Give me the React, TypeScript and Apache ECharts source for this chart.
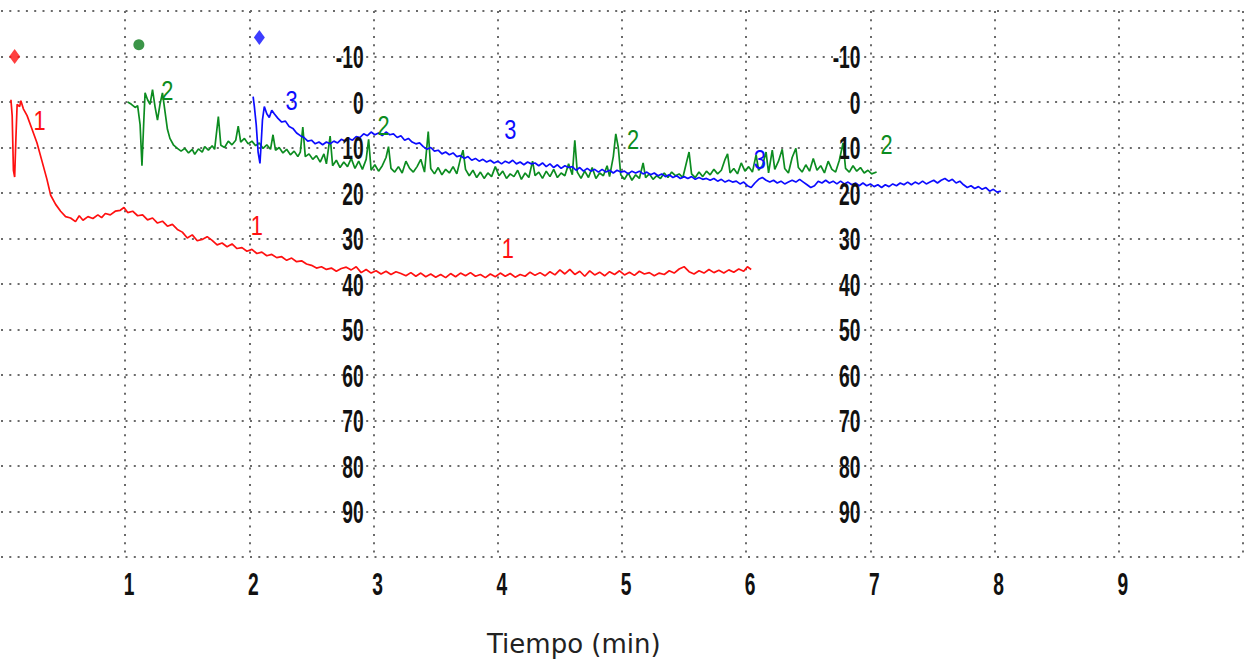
import React, { useEffect, useRef } from "react";
import * as echarts from "echarts";

const xTicks = [1, 2, 3, 4, 5, 6, 7, 8, 9];
const yTicks = [-10, 0, 10, 20, 30, 40, 50, 60, 70, 80, 90];
const yLabelColumns = [3, 7];

const RED = "#ff1010";
const GREEN = "#0c8c20";
const BLUE = "#0c0cff";

const series1: number[][] = [
  [0.08, -0.5], [0.09, 3], [0.1, 15], [0.11, 16.5], [0.12, 8], [0.13, 0.5], [0.15, 1], [0.16, -0.3], [0.18, 1.5],
  [0.21, 3], [0.25, 6], [0.29, 9], [0.33, 13], [0.37, 17], [0.4, 20.5], [0.44, 22.5], [0.48, 24], [0.52, 25.2],
  [0.56, 25.5], [0.6, 26.3], [0.63, 25], [0.66, 26], [0.7, 25.2], [0.74, 25.6], [0.78, 24.8], [0.81, 25.4],
  [0.84, 24.5], [0.88, 24.8], [0.92, 24], [0.96, 23.8], [0.99, 23.2], [1.02, 24.3], [1.06, 24], [1.1, 25],
  [1.14, 24.8], [1.18, 25.9], [1.22, 25.5], [1.26, 26.6], [1.3, 26.2], [1.34, 27.3], [1.38, 26.9], [1.42, 28],
  [1.46, 28.6], [1.5, 29.9], [1.54, 29.2], [1.58, 30.5], [1.62, 30.2], [1.66, 29.6], [1.7, 30.4], [1.74, 31.4],
  [1.78, 31], [1.82, 31.8], [1.86, 31.2], [1.9, 32.2], [1.94, 32], [1.98, 32.8], [2.02, 32.4], [2.06, 33.3],
  [2.1, 33], [2.14, 33.8], [2.18, 33.5], [2.22, 34.2], [2.26, 34], [2.3, 34.8], [2.34, 34.3], [2.38, 35.1],
  [2.42, 34.9], [2.46, 35.6], [2.5, 35.9], [2.54, 36.5], [2.58, 36.2], [2.62, 36.8], [2.66, 36.5], [2.7, 37.2],
  [2.74, 36.6], [2.78, 36.3], [2.82, 36.9], [2.86, 36.2], [2.9, 37.5], [2.94, 36.8], [2.98, 37.6], [3.02, 37.1],
  [3.06, 37.8], [3.1, 37.2], [3.14, 37.9], [3.18, 37.3], [3.22, 37.7], [3.26, 38.2], [3.3, 37.5], [3.34, 38.3],
  [3.38, 37.6], [3.42, 38.4], [3.46, 37.8], [3.5, 38.5], [3.54, 37.9], [3.58, 38.6], [3.62, 37.7], [3.66, 38.4],
  [3.7, 37.6], [3.74, 38.2], [3.78, 37.5], [3.82, 38.3], [3.86, 37.9], [3.9, 38.6], [3.94, 37.8], [3.98, 38.4],
  [4.02, 37.6], [4.06, 38.3], [4.1, 37.7], [4.14, 38.5], [4.18, 37.9], [4.22, 38.3], [4.26, 37.4], [4.3, 38.1],
  [4.34, 37.5], [4.38, 38.2], [4.42, 37.3], [4.46, 38], [4.5, 36.9], [4.54, 37.8], [4.58, 36.8], [4.62, 37.9],
  [4.66, 37.2], [4.7, 38.3], [4.74, 37.1], [4.78, 38], [4.82, 37.4], [4.86, 38.2], [4.9, 37.3], [4.94, 37.9],
  [4.98, 37.1], [5.02, 38], [5.06, 37.4], [5.1, 38.1], [5.14, 37.2], [5.18, 37.8], [5.22, 37.5], [5.26, 38.2],
  [5.3, 37.6], [5.34, 37.9], [5.38, 37.1], [5.42, 37.6], [5.46, 36.7], [5.5, 36.2], [5.54, 37.3], [5.58, 37.8],
  [5.62, 37.1], [5.66, 37.6], [5.7, 36.8], [5.74, 37.5], [5.78, 37], [5.82, 37.6], [5.86, 36.9], [5.9, 37.4],
  [5.94, 36.7], [5.98, 37.2], [6.01, 36.2], [6.04, 36.8],
];

const series2: number[][] = [
  [1.02, 0], [1.05, 0.5], [1.08, 1.2], [1.1, 0.8], [1.12, 5], [1.135, 14], [1.15, 4], [1.16, -2], [1.18, -0.5],
  [1.2, 0.5], [1.22, -2.7], [1.24, 1], [1.26, 4], [1.28, 0.5], [1.3, -2], [1.32, 2], [1.34, 6], [1.36, 8],
  [1.39, 9.5], [1.42, 10.2], [1.45, 10.8], [1.48, 10.2], [1.51, 11.2], [1.54, 10.4], [1.56, 11.5], [1.59, 10.3],
  [1.62, 11], [1.64, 9.8], [1.67, 10.6], [1.7, 9.6], [1.72, 10.4], [1.75, 3.2], [1.77, 9.5], [1.8, 10],
  [1.83, 8.6], [1.86, 9.4], [1.89, 8.4], [1.91, 5.3], [1.93, 8.8], [1.96, 8], [1.99, 9.2], [2.02, 8.6],
  [2.05, 9.6], [2.08, 9], [2.11, 10.2], [2.14, 9.4], [2.17, 10.4], [2.19, 7.2], [2.21, 10.6], [2.24, 10],
  [2.27, 11.2], [2.3, 10.4], [2.33, 11.6], [2.36, 10.8], [2.39, 12], [2.41, 11], [2.43, 5.5], [2.45, 12],
  [2.48, 11.4], [2.51, 12.6], [2.54, 11.8], [2.57, 13.2], [2.6, 11.4], [2.62, 13.6], [2.65, 7.5], [2.67, 14],
  [2.7, 12.8], [2.73, 14.4], [2.76, 13.2], [2.79, 14.2], [2.82, 12.4], [2.85, 14.6], [2.88, 13], [2.91, 14.8],
  [2.94, 12.6], [2.96, 8.2], [2.98, 15], [3.01, 13.8], [3.04, 15.2], [3.07, 14], [3.1, 12.2], [3.12, 9.8],
  [3.14, 14.6], [3.17, 15.4], [3.2, 14.2], [3.23, 15.6], [3.26, 13], [3.29, 14.6], [3.32, 15.4], [3.35, 14.2],
  [3.38, 12.6], [3.41, 15.4], [3.44, 6.5], [3.46, 14.6], [3.49, 15.8], [3.52, 14.4], [3.55, 16], [3.58, 14.8],
  [3.61, 15.6], [3.64, 14.2], [3.67, 15.8], [3.7, 12.4], [3.72, 10.6], [3.74, 14.8], [3.77, 16.2], [3.8, 15],
  [3.83, 16.6], [3.86, 15.4], [3.89, 16.8], [3.92, 15.6], [3.95, 16.4], [3.98, 14.2], [4.01, 16.2], [4.04, 15.2],
  [4.07, 16.8], [4.1, 15.8], [4.13, 16.4], [4.16, 15], [4.19, 17], [4.22, 15.6], [4.25, 16.6], [4.28, 13],
  [4.3, 16.2], [4.33, 15.4], [4.36, 16.8], [4.39, 15.2], [4.42, 16.4], [4.45, 14.8], [4.48, 16.6], [4.51, 15.6],
  [4.54, 16.2], [4.57, 13.6], [4.6, 16], [4.62, 8.4], [4.64, 15.4], [4.67, 16.8], [4.7, 15.2], [4.73, 16.6],
  [4.76, 14.4], [4.79, 16.8], [4.82, 15.6], [4.85, 16.2], [4.88, 14], [4.9, 16.4], [4.93, 12], [4.95, 7],
  [4.97, 10], [4.99, 16], [5.02, 17], [5.05, 15.6], [5.08, 17.2], [5.11, 16], [5.14, 16.8], [5.17, 13.4],
  [5.19, 16.6], [5.22, 15.8], [5.25, 17], [5.28, 16.2], [5.31, 16.8], [5.34, 15.6], [5.37, 16.6], [5.4, 15.4],
  [5.43, 16.2], [5.46, 15.8], [5.49, 16.6], [5.52, 13.2], [5.54, 11], [5.56, 15.8], [5.59, 16.6], [5.62, 15.4],
  [5.65, 16.4], [5.68, 15.2], [5.71, 16], [5.74, 14.8], [5.77, 15.8], [5.8, 15], [5.83, 12.6], [5.85, 11.4],
  [5.87, 15.6], [5.9, 14.6], [5.93, 15.8], [5.96, 13.4], [5.99, 15.2], [6.02, 14.2], [6.05, 15.4], [6.08, 11.6],
  [6.1, 15], [6.13, 14], [6.16, 11], [6.18, 15.6], [6.21, 10.6], [6.23, 14.8], [6.26, 13], [6.29, 10.4],
  [6.31, 14.6], [6.34, 15.6], [6.37, 12.2], [6.4, 10.2], [6.42, 14.4], [6.45, 15.4], [6.48, 13.8], [6.51, 15.2],
  [6.54, 12.4], [6.57, 15], [6.6, 14], [6.63, 15.6], [6.66, 13], [6.69, 14.8], [6.72, 15.4], [6.75, 12.8],
  [6.78, 9], [6.8, 14.6], [6.83, 15.4], [6.86, 14], [6.89, 15.2], [6.92, 14.4], [6.95, 15.6], [6.98, 15],
  [7.01, 15.8], [7.05, 15.4],
];

const series3: number[][] = [
  [2.03, -1.2], [2.04, 1], [2.055, 5], [2.07, 11], [2.085, 13.5], [2.095, 9], [2.105, 4], [2.12, 1], [2.14, 2.6],
  [2.16, 3.4], [2.18, 1.8], [2.2, 2.6], [2.23, 3.6], [2.26, 4.4], [2.29, 4.2], [2.32, 5.4], [2.35, 5.8],
  [2.38, 6.8], [2.41, 7.4], [2.44, 7.8], [2.47, 8.6], [2.5, 8.4], [2.53, 9.2], [2.56, 8.8], [2.59, 9.4],
  [2.62, 8.8], [2.65, 9.2], [2.68, 8.6], [2.71, 9], [2.74, 8.2], [2.77, 8.6], [2.8, 8], [2.83, 8.4], [2.86, 7.6],
  [2.89, 7.8], [2.92, 7], [2.95, 7.4], [2.98, 6.6], [3.01, 7.2], [3.04, 6.8], [3.07, 7.4], [3.1, 6.6],
  [3.13, 7.2], [3.16, 7], [3.19, 7.8], [3.22, 7.4], [3.25, 8.4], [3.28, 8], [3.31, 8.8], [3.34, 9.2], [3.37, 9],
  [3.4, 9.8], [3.43, 10.4], [3.46, 10], [3.49, 10.8], [3.52, 10.6], [3.55, 11.4], [3.58, 11], [3.61, 11.6],
  [3.64, 11.2], [3.67, 12], [3.7, 11.8], [3.73, 12.4], [3.76, 12], [3.79, 12.8], [3.82, 12.4], [3.85, 13],
  [3.88, 12.6], [3.91, 13.2], [3.94, 12.8], [3.97, 13.4], [4.0, 13], [4.03, 13.6], [4.06, 13], [4.09, 13.4],
  [4.12, 12.8], [4.15, 13.6], [4.18, 13.2], [4.21, 13.8], [4.24, 13.2], [4.27, 13.6], [4.3, 13.4], [4.33, 14],
  [4.36, 13.4], [4.39, 14.2], [4.42, 13.6], [4.45, 14.4], [4.48, 13.8], [4.51, 14.6], [4.54, 14], [4.57, 14.4],
  [4.6, 14.2], [4.63, 15], [4.66, 14.4], [4.69, 15.2], [4.72, 14.6], [4.75, 15.2], [4.78, 14.8], [4.81, 15.4],
  [4.84, 14.8], [4.87, 15.4], [4.9, 15], [4.93, 15.6], [4.96, 15], [4.99, 15.4], [5.02, 15.2], [5.05, 15.8],
  [5.08, 15.2], [5.11, 15.6], [5.14, 15.2], [5.17, 15.8], [5.2, 15.4], [5.23, 16], [5.26, 15.6], [5.29, 16.2],
  [5.32, 15.8], [5.35, 16.4], [5.38, 16], [5.41, 16.6], [5.44, 16.2], [5.47, 16.8], [5.5, 16.4], [5.53, 16.8],
  [5.56, 16.4], [5.59, 17], [5.62, 16.6], [5.65, 17], [5.68, 16.8], [5.71, 17.2], [5.74, 16.8], [5.77, 17.4],
  [5.8, 17], [5.83, 17.6], [5.86, 17.2], [5.89, 17.6], [5.92, 17.4], [5.95, 18], [5.98, 17.6], [6.01, 18.4],
  [6.04, 18.8], [6.07, 17.8], [6.1, 17], [6.13, 16.6], [6.16, 17.2], [6.19, 17.6], [6.22, 17.2], [6.25, 17.8],
  [6.28, 17.4], [6.31, 18], [6.34, 17.6], [6.37, 17.2], [6.4, 17.6], [6.43, 17], [6.46, 17.6], [6.49, 18.2],
  [6.52, 18.8], [6.55, 18.4], [6.58, 17.4], [6.61, 17.8], [6.64, 17.2], [6.67, 17.8], [6.7, 17.4], [6.73, 18],
  [6.76, 17.4], [6.79, 18], [6.82, 17.6], [6.85, 18.2], [6.88, 17.8], [6.91, 18.4], [6.94, 17.8], [6.97, 18.4],
  [7.0, 18], [7.03, 18.6], [7.06, 18.2], [7.09, 18.8], [7.12, 18.2], [7.15, 18.6], [7.18, 18], [7.21, 18.4],
  [7.24, 17.8], [7.27, 18.2], [7.3, 17.6], [7.33, 18.2], [7.36, 17.6], [7.39, 18], [7.42, 17.4], [7.45, 18],
  [7.48, 17.6], [7.51, 17.2], [7.54, 17.8], [7.57, 17.2], [7.6, 16.8], [7.63, 17.4], [7.66, 17], [7.69, 17.8],
  [7.72, 17.4], [7.75, 18.2], [7.78, 18.8], [7.81, 18.4], [7.84, 19], [7.87, 18.6], [7.9, 19.2], [7.93, 18.8],
  [7.96, 19.6], [7.99, 19.2], [8.02, 19.8], [8.05, 19.6],
];

// curve number annotations: [time, value]
const labels1: number[][] = [[0.31, 4], [2.06, 27], [4.08, 32]];
const labels2: number[][] = [[1.34, -2.7], [3.08, 5], [5.09, 8.2], [7.13, 9.3]];
const labels3: number[][] = [[2.34, -0.5], [4.1, 6], [6.11, 12.6]];

// injection markers: [time, value]
const marker1 = [0.11, -10];
const marker2 = [1.11, -12.6];
const marker3 = [2.08, -14.2];

const DIGIT_FONT = "'Liberation Sans', Arial, sans-serif";

export default function App() {
  const ref = useRef<HTMLDivElement>(null);
  useEffect(() => {
    if (!ref.current) return;
    const chart = echarts.init(ref.current, undefined, { renderer: "svg" });
    const splitStyle = { color: "#6a6a6a", width: 2, type: [2, 6.3] as any };

    // tick-label text drawn through the axes' scales (narrow digits)
    const tickTextSeries = (
      data: any[],
      opts: { dx: number; dy: number; align: string; color: string; size: number; weight: string; sx: number }
    ) => ({
      type: "custom",
      clip: false,
      silent: true,
      z: 6,
      data,
      renderItem: (params: any, api: any) => {
        const p = api.coord([api.value(0), api.value(1)]);
        const item = data[params.dataIndex];
        return {
          type: "text",
          x: p[0] + opts.dx,
          y: p[1] + opts.dy,
          scaleX: opts.sx,
          style: {
            text: item.name,
            fill: opts.color,
            font: `${opts.weight} ${opts.size}px ${DIGIT_FONT}`,
            align: opts.align,
            verticalAlign: "middle",
          },
        };
      },
    });

    const yLabelData: any[] = [];
    yLabelColumns.forEach((c) => yTicks.forEach((v) => yLabelData.push({ value: [c, v], name: String(v) })));
    const xLabelData = xTicks.map((v) => ({ value: [v, 100], name: String(v) }));
    const mk = (arr: number[][], t: string) => arr.map((d) => ({ value: d, name: t }));

    chart.setOption({
      animation: false,
      backgroundColor: "#fff",
      grid: { left: 1, right: 11, top: 11, bottom: 104, containLabel: false },
      xAxis: {
        type: "value",
        min: 0,
        max: 10,
        interval: 1,
        axisLine: { show: false },
        axisTick: { show: false },
        axisLabel: { show: false },
        splitLine: { show: true, showMinLine: false, lineStyle: splitStyle },
      },
      yAxis: {
        type: "value",
        inverse: true,
        min: -20,
        max: 100,
        interval: 10,
        axisLine: { show: false },
        axisTick: { show: false },
        axisLabel: { show: false },
        splitLine: { show: true, lineStyle: splitStyle },
      },
      graphic: [
        {
          type: "text",
          left: 487,
          top: 631,
          style: {
            text: "Tiempo (min)",
            font: "26px 'DejaVu Sans', Verdana, sans-serif",
            fill: "#222",
          },
        },
      ],
      series: [
        {
          type: "line",
          data: series1,
          showSymbol: false,
          lineStyle: { color: RED, width: 1.7 },
          itemStyle: { color: RED },
        },
        {
          type: "line",
          data: series2,
          showSymbol: false,
          lineStyle: { color: GREEN, width: 1.7 },
          itemStyle: { color: GREEN },
        },
        {
          type: "line",
          data: series3,
          showSymbol: false,
          lineStyle: { color: BLUE, width: 1.7 },
          itemStyle: { color: BLUE },
        },
        tickTextSeries(yLabelData, { dx: -10, dy: 1, align: "right", color: "#111", size: 31, weight: "bold", sx: 0.62 }),
        tickTextSeries(xLabelData, { dx: 4, dy: 27, align: "center", color: "#111", size: 31, weight: "bold", sx: 0.62 }),
        tickTextSeries(mk(labels1, "1"), { dx: 0, dy: 0, align: "center", color: RED, size: 28, weight: "normal", sx: 0.78 }),
        tickTextSeries(mk(labels2, "2"), { dx: 0, dy: 0, align: "center", color: GREEN, size: 28, weight: "normal", sx: 0.78 }),
        tickTextSeries(mk(labels3, "3"), { dx: 0, dy: 0, align: "center", color: BLUE, size: 28, weight: "normal", sx: 0.78 }),
        {
          type: "scatter",
          data: [marker1],
          symbol: "diamond",
          symbolSize: [11, 15],
          itemStyle: { color: RED },
        },
        {
          type: "scatter",
          data: [marker2],
          symbol: "circle",
          symbolSize: 11,
          itemStyle: { color: "#0a7a1a" },
        },
        {
          type: "scatter",
          data: [marker3],
          symbol: "diamond",
          symbolSize: [11, 15],
          itemStyle: { color: BLUE },
        },
      ],
    });
    return () => chart.dispose();
  }, []);
  return (
    <div
      ref={ref}
      style={{ position: "fixed", left: 0, top: 0, width: 1254, height: 661, background: "#fff" }}
    />
  );
}
